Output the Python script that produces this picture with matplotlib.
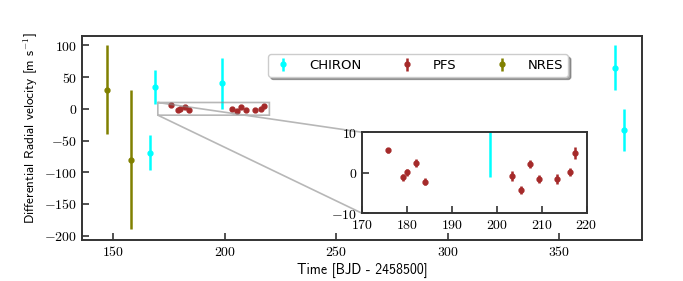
import matplotlib
matplotlib.use("Agg")
import matplotlib.pyplot as plt
from matplotlib.ticker import FuncFormatter

plt.rcParams['mathtext.fontset'] = 'cm'
plt.rcParams['font.family'] = ['cmss10', 'DejaVu Sans']
plt.rcParams['axes.formatter.use_mathtext'] = True

# CHIRON
chiron_t = [166.4, 168.7, 198.6, 374.9, 379.0]
chiron_rv = [-69, 34, 40, 65, -33]
chiron_err = [27, 27, 41, 36, 33]
# PFS
pfs_t = [175.9, 179.05, 180.0, 182.0, 184.0, 203.3, 205.3, 207.3, 209.3, 213.4, 216.4, 217.5]
pfs_rv = [5.5, -1.1, 0.1, 2.4, -2.2, -0.8, -4.2, 2.2, -1.5, -1.6, 0.2, 4.9]
pfs_err = [0.5, 0.9, 0.8, 0.9, 0.8, 1.3, 1.0, 1.0, 1.0, 1.2, 1.0, 1.4]
# NRES
nres_t = [147.4, 158.0]
nres_rv = [30, -80]
nres_err = [70, 110]

xticks = [150, 200, 250, 300, 350]
yticks = [-200, -150, -100, -50, 0, 50, 100]
inset_xticks = [170, 180, 190, 200, 210, 220]
inset_yticks = [-10, 0, 10]

fig = plt.figure(figsize=(6.83, 2.81), dpi=100)
ax = fig.add_axes([0.120, 0.146, 0.820, 0.726])

mfmt = FuncFormatter(lambda v, p: r'$\mathrm{%d}$' % round(v) if v >= 0 else r'$-\mathrm{%d}$' % round(-v))

def style(a):
    for s in a.spines.values():
        s.set_linewidth(1.4)
        s.set_color('#333333')
    a.tick_params(direction='in', length=5, width=1.2, labelsize=10, colors='#333333',
                  labelcolor='black', top=False, right=False)
    a.xaxis.set_major_formatter(mfmt)
    a.yaxis.set_major_formatter(mfmt)

kw = dict(fmt='o', ms=3.5, elinewidth=1.8, capsize=0, ls='none')
ax.errorbar(chiron_t, chiron_rv, yerr=chiron_err, color='cyan', label='CHIRON', **kw)
ax.errorbar(pfs_t, pfs_rv, yerr=pfs_err, color='#A52A2A', label='PFS', **kw)
ax.errorbar(nres_t, nres_rv, yerr=nres_err, color='#808000', label='NRES', **kw)

ax.set_xlim(136, 387)
ax.set_ylim(-207, 115)
ax.set_xticks(xticks)
ax.set_yticks(yticks)
style(ax)
ax.set_xlabel('Time [BJD - 2458500]', fontsize=10, labelpad=3)
ax.set_ylabel(r'Differential Radial velocity [m s$^{-1}$]', fontsize=9.5)
ax.yaxis.set_label_coords(-0.075, 0.55)

leg = ax.legend(loc='center', bbox_to_anchor=(0.60, 0.855), ncol=3, fancybox=True,
                shadow=True, columnspacing=2.6, handlelength=1.6,
                handletextpad=1.2, borderpad=0.35,
                prop={'family': 'DejaVu Sans', 'size': 9.5})

axin = ax.inset_axes([0.5, 0.131, 0.401, 0.397])
axin.errorbar(chiron_t, chiron_rv, yerr=chiron_err, color='cyan', **kw)
axin.errorbar(pfs_t, pfs_rv, yerr=pfs_err, color='#A52A2A', **kw)
axin.errorbar(nres_t, nres_rv, yerr=nres_err, color='#808000', **kw)
axin.set_xlim(170, 220)
axin.set_ylim(-10, 10)
axin.set_xticks(inset_xticks)
axin.set_yticks(inset_yticks)
style(axin)
ax.indicate_inset_zoom(axin, edgecolor='#888888', alpha=0.6, linewidth=1.2)

fig.savefig('out.png', dpi=100)
